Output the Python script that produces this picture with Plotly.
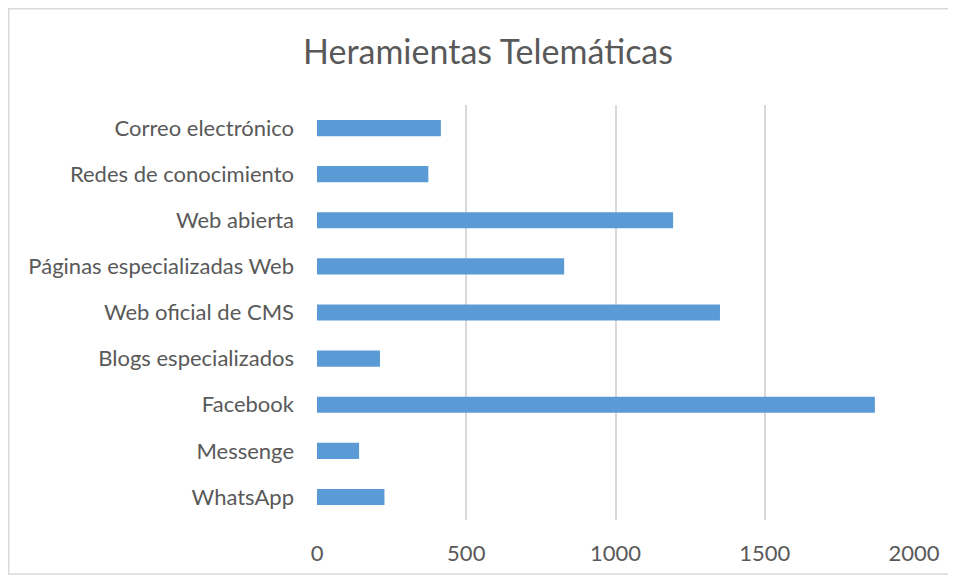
import plotly.graph_objects as go

categories = ["WhatsApp", "Messenge", "Facebook", "Blogs especializados",
              "Web oficial de CMS", "Páginas especializadas Web", "Web abierta",
              "Redes de conocimiento", "Correo electrónico"]
values = [226, 141, 1869, 211, 1350, 828, 1193, 373, 415]
x_ticks = [0, 500, 1000, 1500, 2000]

# page is rendered with an 8px body margin
OFF = 8
W, H = 956 - OFF, 579 - OFF
L, R, T, B = 317 - OFF, 914 - OFF, 105 - OFF, 520 - OFF

fig = go.Figure(go.Bar(
    y=categories, x=values, orientation="h",
    marker=dict(color="#5b9bd5", line=dict(width=0)),
    width=0.35,
))

def px_to_paper_x(px):
    return (px - L) / (R - L)

def px_to_paper_y(py):
    return (B - py) / (B - T)

fig.update_layout(
    width=W, height=H,
    margin=dict(l=L, r=W - R, t=T, b=H - B),
    paper_bgcolor="white", plot_bgcolor="white",
    font=dict(family="Lato, 'Open Sans', sans-serif", color="#595959", size=22),
    title=dict(text="Heramientas Telemáticas", xref="container",
               x=(488 - OFF) / W, xanchor="center",
               y=1 - (52 - OFF) / H, yanchor="middle",
               font=dict(size=34, color="#595959")),
    showlegend=False,
    xaxis=dict(range=[0, 2000], tickvals=x_ticks, showgrid=True,
               gridcolor="#d9d9d9", gridwidth=1.5, zeroline=False,
               showline=False, ticks="", ticklabelstandoff=18,
               tickfont=dict(size=22, color="#595959")),
    yaxis=dict(categoryorder="array", categoryarray=categories,
               showgrid=False, zeroline=False, showline=False, ticks="",
               ticklabelstandoff=22,
               tickfont=dict(size=22, color="#595959")),
    shapes=[dict(type="rect", xref="paper", yref="paper",
                 x0=px_to_paper_x(0.75), x1=px_to_paper_x(951 - OFF),
                 y0=px_to_paper_y(574 - OFF), y1=px_to_paper_y(0.75),
                 line=dict(color="#d9d9d9", width=1.5), fillcolor="rgba(0,0,0,0)",
                 layer="below")],
)

fig.write_html("out.html")
